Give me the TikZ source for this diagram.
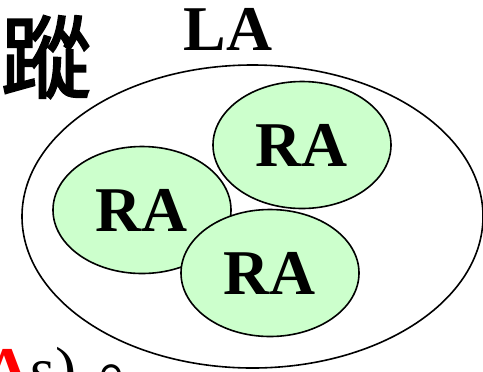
\documentclass[tikz,border=0pt]{standalone}
\usepackage{xcolor}
\usepackage{fontspec}
\setmainfont{Liberation Serif}
\newfontfamily\cjk{Noto Sans CJK TC}
\newfontfamily\cjkheavy{Noto Sans CJK TC}[FakeBold=2.5]
\usetikzlibrary{shapes.geometric}
\definecolor{ragreen}{RGB}{204,255,204}
\tikzset{
laellipse/.style={ellipse, draw=black!100,fill=white,line width=1.6bp, inner sep=0pt, minimum width= 461bp, minimum height = 303bp},
raellipse/.style={ellipse, draw=black!100,fill=ragreen,line width=1.6bp, inner sep=0pt, minimum width= 178bp, minimum height = 127bp, font=\fontsize{64}{70}\selectfont\bfseries},
bigtext/.style={inner sep=0pt, font=\fontsize{64}{70}\selectfont},
boldtext/.style={inner sep=0pt, font=\fontsize{64}{70}\selectfont\bfseries},
}

\begin{document}
\begin{tikzpicture}[x=1bp,y=-1bp]
        \useasboundingbox (0,0) rectangle (483,371);
        \clip (0,0) rectangle (483,371);
        \node[bigtext] at (46,57) (zong) {\fontsize{90}{94}\selectfont\cjkheavy 蹤};
        \node[boldtext] at (228,29) (la) {LA};
        \node[laellipse] at (252.5,216.5) (lacircle) {};
        \node[raellipse] at (142,210) (raleft) {RA};
        \node[raellipse] at (302,145) (ratop) {RA};
        \node[raellipse] at (270,273) (rabottom) {RA};
        \node[bigtext,anchor=base west] at (-16,391) (ras) {\textcolor{red}{\bfseries A}s)};
        \node[bigtext,anchor=base west] at (79,398) (stop) {\cjk 。};
\end{tikzpicture}
\end{document}
